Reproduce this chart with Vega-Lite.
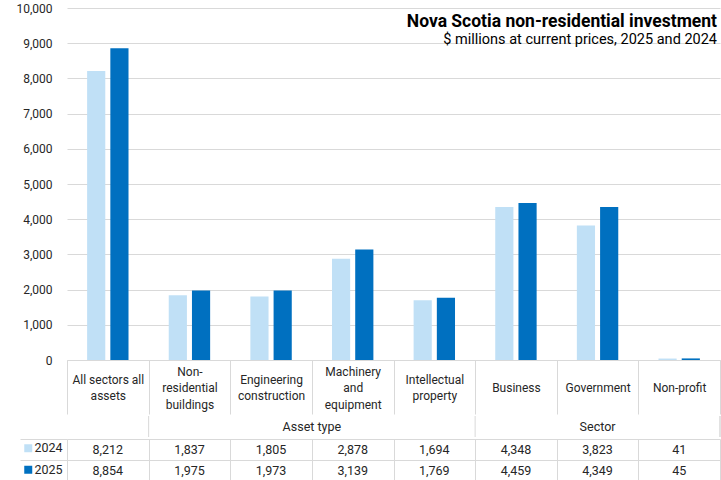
{
  "$schema": "https://vega.github.io/schema/vega-lite/v6.json",
  "padding": {"left": 15, "top": 2, "right": 1, "bottom": 0},
  "background": "white",
  "spacing": 0,
  "config": {
    "view": {"stroke": null},
    "font": "Roboto",
    "text": {"font": "Roboto"}
  },
  "datasets": {
    "inv": [
      {"category": "All sectors all assets", "year": "2024", "value": 8212},
      {"category": "All sectors all assets", "year": "2025", "value": 8854},
      {"category": "Non-residential buildings", "year": "2024", "value": 1837},
      {"category": "Non-residential buildings", "year": "2025", "value": 1975},
      {"category": "Engineering construction", "year": "2024", "value": 1805},
      {"category": "Engineering construction", "year": "2025", "value": 1973},
      {"category": "Machinery and equipment", "year": "2024", "value": 2878},
      {"category": "Machinery and equipment", "year": "2025", "value": 3139},
      {"category": "Intellectual property", "year": "2024", "value": 1694},
      {"category": "Intellectual property", "year": "2025", "value": 1769},
      {"category": "Business", "year": "2024", "value": 4348},
      {"category": "Business", "year": "2025", "value": 4459},
      {"category": "Government", "year": "2024", "value": 3823},
      {"category": "Government", "year": "2025", "value": 4349},
      {"category": "Non-profit", "year": "2024", "value": 41},
      {"category": "Non-profit", "year": "2025", "value": 45}
    ],
    "groups": [
      {"group": "Asset type", "first": "Non-residential buildings"},
      {"group": "Sector", "first": "Business"}
    ]
  },
  "vconcat": [
    {
      "width": 653,
      "height": 352,
      "data": {"name": "inv"},
      "title": {
        "text": "Nova Scotia non-residential investment",
        "subtitle": "$ millions at current prices, 2025 and 2024",
        "anchor": "end",
        "frame": "group",
        "offset": -44,
        "dx": -3,
        "font": "Roboto",
        "fontSize": 17.5,
        "fontWeight": "bold",
        "color": "#000000",
        "subtitleFont": "Roboto",
        "subtitleFontSize": 14.5,
        "subtitleColor": "#000000",
        "subtitlePadding": 2
      },
      "mark": {"type": "bar"},
      "encoding": {
        "x": {
          "field": "category",
          "type": "nominal",
          "sort": ["All sectors all assets", "Non-residential buildings", "Engineering construction", "Machinery and equipment", "Intellectual property", "Business", "Government", "Non-profit"],
          "scale": {"domain": ["All sectors all assets", "Non-residential buildings", "Engineering construction", "Machinery and equipment", "Intellectual property", "Business", "Government", "Non-profit"], "paddingInner": 0, "paddingOuter": 0},
          "axis": {
            "title": null,
            "labelExpr": "datum.label == 'All sectors all assets' ? ['\u200b', 'All sectors all', '\u200b', 'assets'] : datum.label == 'Non-residential buildings' ? ['Non-', '\u200b', 'residential', '\u200b', 'buildings'] : datum.label == 'Engineering construction' ? ['\u200b', 'Engineering', '\u200b', 'construction'] : datum.label == 'Machinery and equipment' ? ['Machinery', '\u200b', 'and', '\u200b', 'equipment'] : datum.label == 'Intellectual property' ? ['\u200b', 'Intellectual', '\u200b', 'property'] : ['\u200b', '\u200b', datum.label]",
            "labelAngle": 0,
            "labelBaseline": "middle",
            "labelPadding": -43,
            "labelLineHeight": 8.25,
            "labelFont": "Roboto",
            "labelFontSize": 12,
            "labelColor": "#262626",
            "labelOverlap": false,
            "ticks": true,
            "tickBand": "extent",
            "tickExtra": false,
            "tickSize": 54,
            "tickColor": "#d9d9d9",
            "domainColor": "#d9d9d9"
          }
        },
        "xOffset": {
          "field": "year",
          "type": "nominal",
          "scale": {"paddingInner": 0.2174, "paddingOuter": 0.866}
        },
        "y": {
          "field": "value",
          "type": "quantitative",
          "scale": {"domain": [0, 10000]},
          "axis": {
            "title": null,
            "values": [0, 1000, 2000, 3000, 4000, 5000, 6000, 7000, 8000, 9000, 10000],
            "format": ",d",
            "grid": true,
            "gridColor": "#d9d9d9",
            "ticks": false,
            "domain": false,
            "labelPadding": 15,
            "labelFont": "Roboto",
            "labelFontSize": 12,
            "labelColor": "#262626"
          }
        },
        "color": {
          "field": "year",
          "type": "nominal",
          "scale": {"domain": ["2024", "2025"], "range": ["#c0e0f6", "#0070c0"]},
          "legend": {
            "orient": "none",
            "legendX": -45,
            "legendY": 434,
            "direction": "vertical",
            "title": null,
            "symbolType": "square",
            "symbolSize": 64,
            "symbolStrokeWidth": 0,
            "labelFont": "Roboto",
            "labelFontSize": 12.5,
            "labelColor": "#262626",
            "rowPadding": 8.5,
            "labelOffset": 0,
            "padding": 0
          }
        }
      }
    },
    {
      "width": 653,
      "height": 21,
      "data": {"name": "groups"},
      "layer": [
        {
          "mark": {"type": "rule", "color": "#d9d9d9"},
          "encoding": {
            "x": {
              "field": "first",
              "type": "nominal",
              "bandPosition": 0,
              "scale": {"domain": ["All sectors all assets", "Non-residential buildings", "Engineering construction", "Machinery and equipment", "Intellectual property", "Business", "Government", "Non-profit"], "paddingInner": 0, "paddingOuter": 0},
              "axis": null
            }
          }
        },
        {
          "mark": {"type": "rule", "color": "#d9d9d9"},
          "encoding": {
            "x": {"datum": "Non-profit", "type": "nominal", "bandPosition": 1}
          }
        },
        {
          "transform": [{"filter": "datum.group == 'Asset type'"}],
          "mark": {"type": "text", "font": "Roboto", "fontSize": 12.5, "color": "#262626", "baseline": "middle"},
          "encoding": {
            "x": {"datum": "Machinery and equipment", "type": "nominal", "bandPosition": 0},
            "text": {"field": "group"}
          }
        },
        {
          "transform": [{"filter": "datum.group == 'Sector'"}],
          "mark": {"type": "text", "font": "Roboto", "fontSize": 12.5, "color": "#262626", "baseline": "middle"},
          "encoding": {
            "x": {"datum": "Government", "type": "nominal", "bandPosition": 0.5},
            "text": {"field": "group"}
          }
        }
      ]
    },
    {
      "width": 653,
      "height": 42,
      "data": {"name": "inv"},
      "mark": {"type": "text", "font": "Roboto", "fontSize": 12.5, "color": "#262626", "baseline": "middle"},
      "encoding": {
        "x": {
          "field": "category",
          "type": "nominal",
          "scale": {"domain": ["All sectors all assets", "Non-residential buildings", "Engineering construction", "Machinery and equipment", "Intellectual property", "Business", "Government", "Non-profit"], "paddingInner": 0, "paddingOuter": 0},
          "axis": {
            "title": null,
            "labels": false,
            "ticks": false,
            "domain": false,
            "grid": true,
            "gridColor": "#d9d9d9",
            "tickBand": "extent",
            "tickExtra": false
          }
        },
        "y": {
          "field": "year",
          "type": "nominal",
          "scale": {"domain": ["2024", "2025"], "paddingInner": 0, "paddingOuter": 0},
          "axis": {
            "title": null,
            "labels": false,
            "domain": false,
            "ticks": true,
            "tickSize": 47,
            "tickColor": "#d9d9d9",
            "grid": true,
            "gridColor": "#d9d9d9",
            "tickBand": "extent",
            "tickExtra": false
          }
        },
        "text": {"field": "value", "type": "quantitative", "format": ","}
      }
    }
  ]
}
